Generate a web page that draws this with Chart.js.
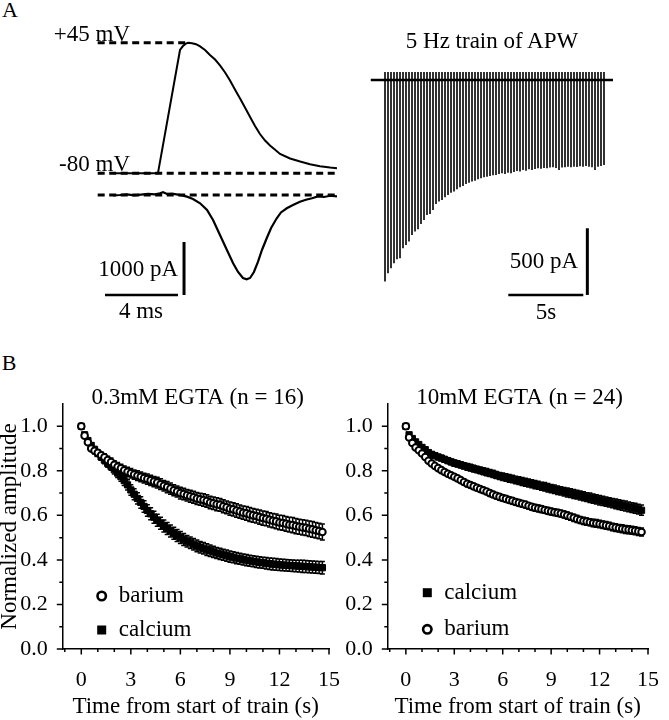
<!DOCTYPE html>
<html>
<head>
<meta charset="utf-8">
<script src="https://cdn.jsdelivr.net/npm/chart.js@4.4.1/dist/chart.umd.min.js"></script>
<style>
  body { margin: 0; background: #fff; }
  #fig { position: relative; width: 669px; height: 720px; background: #fff; overflow: hidden;
         font-family: "Liberation Serif", "Times New Roman", serif; color: #000; }
  #fig canvas { position: absolute; }
  .lbl { position: absolute; font-size: 23px; line-height: 1; white-space: nowrap; }
</style>
</head>
<body>
<div id="fig">
  <canvas id="apChart" width="255" height="275" style="left:90px;top:30px"></canvas>
  <canvas id="trainChart" width="260" height="260" style="left:360px;top:50px"></canvas>
  <canvas id="egta03Chart" width="350" height="340" style="left:0px;top:380px"></canvas>
  <canvas id="egta10Chart" width="344" height="340" style="left:325px;top:380px"></canvas>

  <div class="lbl" style="left:10px;top:10px;font-size:22px;transform:translate(-50%,-50%)">A</div>
  <div class="lbl" style="left:130px;top:33px;transform:translate(-100%,-50%)">+45 mV</div>
  <div class="lbl" style="left:130px;top:163px;transform:translate(-100%,-50%)">-80 mV</div>
  <div class="lbl" style="left:178px;top:268px;transform:translate(-100%,-50%)">1000 pA</div>
  <div class="lbl" style="left:141px;top:310px;transform:translate(-50%,-50%)">4 ms</div>
  <div class="lbl" style="left:492px;top:40px;transform:translate(-50%,-50%)">5 Hz train of APW</div>
  <div class="lbl" style="left:578px;top:260px;transform:translate(-100%,-50%)">500 pA</div>
  <div class="lbl" style="left:546px;top:311px;transform:translate(-50%,-50%)">5s</div>
  <div class="lbl" style="left:9px;top:363px;font-size:22px;transform:translate(-50%,-50%)">B</div>
</div>

<script>
// ---- panel A, left: action potential waveform (ms, mV)
const apTime = [0.84, 3.30, 4.51, 4.67, 4.81, 4.95, 5.17, 5.39, 5.61, 5.88, 6.15, 6.43, 6.70, 6.98,
  7.25, 7.52, 7.80, 8.07, 8.35, 8.62, 8.89, 9.17, 9.44, 9.72, 9.99, 10.54, 11.09, 11.63, 12.18, 12.73, 13.11]
const apVolt = [-80, -80, 38.0, 41.8, 43.8, 45.0, 44.5, 43.6, 41.4, 38.0, 33.2, 28.9, 23.2, 16.5,
  8.8, 0.2, -8.4, -17.0, -26.1, -34.7, -42.4, -48.6, -53.4, -57.5, -61.5, -65.8, -68.7, -71.3, -73.2, -74.5, -75.2]

// current evoked by that waveform (ms, pA)
const icaTime = [0.84, 1.22, 1.61, 1.99, 2.37, 2.76, 3.14, 3.41, 3.58, 3.80, 4.07, 4.40, 4.67, 4.89,
  5.22, 5.61, 5.99, 6.32, 6.70, 7.08, 7.42, 7.69, 7.96, 8.16, 8.35, 8.56, 8.78, 9.00, 9.26, 9.50,
  9.81, 10.04, 10.36, 10.70, 11.08, 11.41, 11.74, 12.07, 12.40, 12.73, 13.11]
const icaCurr = [-9, 0, 13, -6, 6, 19, 13, 32, 51, 19, 25, 6, -13, -32,
  -75, -157, -283, -472, -755, -1038, -1289, -1453, -1566, -1591, -1566, -1453, -1264, -1038, -817, -623,
  -440, -330, -251, -189, -126, -89, -62, -28, -38, -15, -25]

const apLevels = [45, -80]        // mV, dashed reference lines
const apScaleBar = [4, 1000]      // ms, pA

// ---- panel A, right: peak current of each response in the 5 Hz train (pA)
const trainPeaks = [1512, 1450, 1412, 1375, 1345, 1337, 1262, 1237, 1212, 1162,
  1137, 1120, 1080, 1050, 1012, 1005, 975, 930, 912, 900,
  880, 862, 845, 837, 820, 805, 795, 780, 770, 762,
  755, 745, 737, 730, 725, 720, 715, 712, 705, 700,
  705, 695, 700, 690, 682, 687, 675, 680, 670, 675,
  667, 662, 665, 660, 662, 657, 655, 660, 675, 657,
  655, 650, 655, 650, 652, 647, 650, 645, 650, 655,
  675, 650, 645, 637]
const stimArtifact = 60           // pA, upward stimulus blip
const trainScaleBar = [5, 500]    // s, pA
const stimInterval = 0.2          // s (5 Hz)

// ---- panel B: normalized amplitude, one point per stimulus
const ba03 = [1.000, 0.958, 0.928, 0.900, 0.890, 0.881, 0.870, 0.861, 0.848, 0.839,
  0.827, 0.818, 0.811, 0.802, 0.796, 0.789, 0.783, 0.778, 0.773, 0.767,
  0.763, 0.757, 0.752, 0.747, 0.740, 0.733, 0.727, 0.720, 0.713, 0.707,
  0.700, 0.696, 0.690, 0.686, 0.681, 0.676, 0.672, 0.669, 0.664, 0.658,
  0.654, 0.650, 0.647, 0.641, 0.636, 0.630, 0.627, 0.622, 0.617, 0.612,
  0.609, 0.604, 0.600, 0.597, 0.592, 0.588, 0.585, 0.580, 0.576, 0.573,
  0.568, 0.566, 0.562, 0.558, 0.556, 0.552, 0.549, 0.546, 0.544, 0.540,
  0.537, 0.533, 0.530, 0.525]
const ba03Err = [0.000, 0.008, 0.010, 0.012, 0.013, 0.014, 0.015, 0.016, 0.017, 0.018,
  0.018, 0.019, 0.019, 0.020, 0.020, 0.021, 0.021, 0.022, 0.022, 0.022,
  0.023, 0.023, 0.023, 0.024, 0.024, 0.024, 0.025, 0.025, 0.025, 0.025,
  0.026, 0.026, 0.026, 0.027, 0.027, 0.027, 0.027, 0.028, 0.028, 0.028,
  0.028, 0.029, 0.029, 0.029, 0.029, 0.030, 0.030, 0.030, 0.030, 0.030,
  0.031, 0.031, 0.031, 0.031, 0.032, 0.032, 0.032, 0.032, 0.032, 0.033,
  0.033, 0.033, 0.033, 0.033, 0.034, 0.034, 0.034, 0.034, 0.034, 0.035,
  0.035, 0.035, 0.035, 0.036]
const ca03 = [1.000, 0.962, 0.936, 0.914, 0.896, 0.878, 0.862, 0.848, 0.833, 0.820,
  0.805, 0.790, 0.774, 0.756, 0.737, 0.714, 0.695, 0.676, 0.658, 0.640,
  0.622, 0.607, 0.592, 0.578, 0.565, 0.552, 0.541, 0.530, 0.520, 0.510,
  0.501, 0.492, 0.484, 0.477, 0.470, 0.463, 0.457, 0.452, 0.446, 0.441,
  0.436, 0.431, 0.427, 0.423, 0.419, 0.415, 0.412, 0.408, 0.405, 0.402,
  0.399, 0.396, 0.394, 0.391, 0.389, 0.387, 0.385, 0.383, 0.381, 0.380,
  0.378, 0.377, 0.376, 0.375, 0.374, 0.373, 0.372, 0.371, 0.370, 0.369,
  0.368, 0.367, 0.366, 0.365]
const ca03Err = [0.000, 0.008, 0.010, 0.012, 0.013, 0.014, 0.015, 0.016, 0.017, 0.018,
  0.019, 0.020, 0.021, 0.022, 0.023, 0.024, 0.025, 0.025, 0.026, 0.026,
  0.026, 0.027, 0.027, 0.027, 0.027, 0.027, 0.027, 0.027, 0.027, 0.027,
  0.027, 0.027, 0.026, 0.026, 0.026, 0.026, 0.026, 0.026, 0.026, 0.026,
  0.025, 0.025, 0.025, 0.025, 0.025, 0.025, 0.025, 0.025, 0.025, 0.025,
  0.025, 0.025, 0.025, 0.025, 0.025, 0.025, 0.026, 0.026, 0.026, 0.026,
  0.026, 0.026, 0.026, 0.026, 0.026, 0.026, 0.026, 0.027, 0.027, 0.027,
  0.027, 0.027, 0.027, 0.028]
const ca10 = [1.000, 0.962, 0.945, 0.930, 0.918, 0.905, 0.895, 0.882, 0.874, 0.868,
  0.862, 0.857, 0.851, 0.846, 0.840, 0.835, 0.831, 0.827, 0.822, 0.818,
  0.814, 0.810, 0.806, 0.802, 0.798, 0.794, 0.790, 0.786, 0.781, 0.777,
  0.773, 0.770, 0.766, 0.763, 0.759, 0.756, 0.752, 0.749, 0.745, 0.742,
  0.738, 0.735, 0.731, 0.728, 0.724, 0.720, 0.717, 0.713, 0.710, 0.706,
  0.703, 0.700, 0.696, 0.693, 0.689, 0.686, 0.682, 0.679, 0.675, 0.672,
  0.668, 0.665, 0.662, 0.658, 0.655, 0.652, 0.648, 0.645, 0.642, 0.638,
  0.635, 0.632, 0.628, 0.623]
const ca10Err = [0.000, 0.006, 0.008, 0.009, 0.010, 0.010, 0.011, 0.011, 0.012, 0.012,
  0.012, 0.013, 0.013, 0.013, 0.013, 0.014, 0.014, 0.014, 0.014, 0.015,
  0.015, 0.015, 0.015, 0.015, 0.016, 0.016, 0.016, 0.016, 0.016, 0.016,
  0.017, 0.017, 0.017, 0.017, 0.017, 0.017, 0.018, 0.018, 0.018, 0.018,
  0.018, 0.018, 0.018, 0.019, 0.019, 0.019, 0.019, 0.019, 0.019, 0.019,
  0.020, 0.020, 0.020, 0.020, 0.020, 0.020, 0.020, 0.021, 0.021, 0.021,
  0.021, 0.021, 0.021, 0.021, 0.021, 0.022, 0.022, 0.022, 0.022, 0.022,
  0.022, 0.022, 0.022, 0.023]
const ba10 = [1.000, 0.950, 0.925, 0.905, 0.892, 0.878, 0.862, 0.845, 0.833, 0.822,
  0.812, 0.803, 0.795, 0.787, 0.780, 0.773, 0.766, 0.758, 0.750, 0.742,
  0.736, 0.730, 0.724, 0.718, 0.713, 0.707, 0.700, 0.694, 0.688, 0.683,
  0.678, 0.674, 0.669, 0.665, 0.660, 0.656, 0.652, 0.648, 0.643, 0.638,
  0.634, 0.631, 0.628, 0.624, 0.620, 0.617, 0.614, 0.611, 0.608, 0.604,
  0.599, 0.594, 0.589, 0.584, 0.579, 0.575, 0.572, 0.569, 0.566, 0.564,
  0.561, 0.558, 0.555, 0.552, 0.548, 0.545, 0.542, 0.540, 0.537, 0.535,
  0.533, 0.531, 0.528, 0.525]
const ba10Err = [0.000, 0.005, 0.006, 0.007, 0.008, 0.008, 0.009, 0.009, 0.009, 0.010,
  0.010, 0.010, 0.010, 0.011, 0.011, 0.011, 0.011, 0.011, 0.012, 0.012,
  0.012, 0.012, 0.012, 0.012, 0.012, 0.013, 0.013, 0.013, 0.013, 0.013,
  0.013, 0.013, 0.014, 0.014, 0.014, 0.014, 0.014, 0.014, 0.014, 0.014,
  0.015, 0.015, 0.015, 0.015, 0.015, 0.015, 0.015, 0.015, 0.015, 0.016,
  0.016, 0.016, 0.016, 0.016, 0.016, 0.016, 0.016, 0.016, 0.017, 0.017,
  0.017, 0.017, 0.017, 0.017, 0.017, 0.017, 0.017, 0.018, 0.018, 0.018,
  0.018, 0.018, 0.018, 0.018]

const xTicks = [0, 3, 6, 9, 12, 15]
const yTicks = [0, 0.2, 0.4, 0.6, 0.8, 1.0]

const serif = '"Liberation Serif", "Times New Roman", serif'
Chart.defaults.font.family = serif
Chart.defaults.color = '#000'

function pairs(xs, ys) {
  return xs.map((x, k) => ({ x: x, y: ys[k] }))
}

function stimPoints(values) {
  return values.map((v, k) => ({ x: k * stimInterval, y: v }))
}

// ---------- panel A, left ----------
new Chart(document.getElementById('apChart'), {
  type: 'line',
  data: {
    datasets: [
      { data: pairs(apTime, apVolt), yAxisID: 'yV', borderWidth: 2 },
      { data: pairs(icaTime, icaCurr), yAxisID: 'yI', borderWidth: 2.2 },
      { data: [{ x: 0, y: apLevels[0] }, { x: 5.05, y: apLevels[0] }], yAxisID: 'yV', borderWidth: 3, borderDash: [7, 4.5] },
      { data: [{ x: 0, y: apLevels[1] }, { x: 13.1, y: apLevels[1] }], yAxisID: 'yV', borderWidth: 3, borderDash: [7, 4.5] },
      { data: [{ x: 0, y: 0 }, { x: 13.1, y: 0 }], yAxisID: 'yI', borderWidth: 3, borderDash: [7, 4.5] },
      // scale bars
      { data: [{ x: 0.4, y: -1887 }, { x: 0.4 + apScaleBar[0], y: -1887 }], yAxisID: 'yI', borderWidth: 2.5 },
      { data: [{ x: 4.73, y: -1887 }, { x: 4.73, y: -1887 + apScaleBar[1] }], yAxisID: 'yI', borderWidth: 3 }
    ]
  },
  options: {
    responsive: false,
    animation: false,
    events: [],
    layout: { padding: 0 },
    plugins: { legend: { display: false }, tooltip: { enabled: false } },
    elements: { point: { radius: 0 }, line: { borderColor: '#000', fill: false, tension: 0 } },
    scales: {
      x: { type: 'linear', display: false, min: -0.422, max: 13.55 },
      yV: { type: 'linear', axis: 'y', display: false, min: -206.05, max: 57.16 },
      yI: { type: 'linear', axis: 'y', display: false, min: -2076, max: 3113 }
    }
  }
})

// ---------- panel A, right ----------
const trainTrace = []
trainPeaks.forEach((amp, k) => {
  const t = k * stimInterval
  trainTrace.push({ x: t, y: 0 }, { x: t, y: stimArtifact }, { x: t, y: -amp }, { x: t, y: 0 })
})

new Chart(document.getElementById('trainChart'), {
  type: 'line',
  data: {
    datasets: [
      { data: [{ x: -0.95, y: 0 }, { x: 15.2, y: 0 }], borderWidth: 2.4 },
      { data: trainTrace, borderWidth: 1.6 },
      { data: [{ x: 8.22, y: -1612 }, { x: 8.22 + trainScaleBar[0], y: -1612 }], borderWidth: 2.5 },
      { data: [{ x: 13.49, y: -1612 }, { x: 13.49, y: -1612 + trainScaleBar[1] }], borderWidth: 3 }
    ]
  },
  options: {
    responsive: false,
    animation: false,
    events: [],
    layout: { padding: 0 },
    plugins: { legend: { display: false }, tooltip: { enabled: false } },
    elements: { point: { radius: 0 }, line: { borderColor: '#000', fill: false, tension: 0 } },
    scales: {
      x: { type: 'linear', display: false, min: -1.667, max: 15.667 },
      y: { type: 'linear', display: false, min: -1725, max: 225 }
    }
  }
})

// ---------- panel B ----------
// error bars, minor/major ticks, panel title and the in-plot legend
const figureBits = {
  id: 'figureBits',
  beforeDatasetDraw(chart, args) {
    const ds = chart.data.datasets[args.index]
    if (!ds.errors) return
    const ctx = chart.ctx
    const ys = chart.scales.y
    ctx.save()
    ctx.strokeStyle = '#000'
    ctx.lineWidth = 1.5
    args.meta.data.forEach((pt, k) => {
      const e = ds.errors[k]
      if (!e) return
      const v = ds.data[k].y
      const top = ys.getPixelForValue(v + e)
      const bot = ys.getPixelForValue(v - e)
      ctx.beginPath()
      ctx.moveTo(pt.x, top); ctx.lineTo(pt.x, bot)
      ctx.moveTo(pt.x - 2.5, top); ctx.lineTo(pt.x + 2.5, top)
      ctx.moveTo(pt.x - 2.5, bot); ctx.lineTo(pt.x + 2.5, bot)
      ctx.stroke()
    })
    ctx.restore()
  },
  afterDraw(chart, args, opts) {
    const ctx = chart.ctx
    const xs = chart.scales.x
    const ys = chart.scales.y
    const area = chart.chartArea
    ctx.save()
    ctx.strokeStyle = '#000'
    ctx.fillStyle = '#000'
    ctx.lineWidth = 1.5
    ctx.beginPath()
    for (let k = 0; k <= 10; k++) {
      const py = ys.getPixelForValue(k / 10)
      ctx.moveTo(area.left - (k % 2 ? 3 : 5.5), py)
      ctx.lineTo(area.left, py)
    }
    for (let t = -1; t <= 15; t++) {
      const px = xs.getPixelForValue(t)
      ctx.moveTo(px, area.bottom)
      ctx.lineTo(px, area.bottom + (t % 3 === 0 ? 5.5 : 3))
    }
    ctx.stroke()

    ctx.font = '23px ' + serif
    ctx.textAlign = 'center'
    ctx.textBaseline = 'middle'
    ctx.fillText(opts.title, (area.left + area.right) / 2 + 2, area.top - 6)

    ctx.textAlign = 'left'
    opts.legend.forEach(item => {
      if (item.style === 'circle') {
        ctx.beginPath()
        ctx.lineWidth = 2.6
        ctx.arc(item.x, item.y, 4.2, 0, 2 * Math.PI)
        ctx.fillStyle = '#fff'
        ctx.fill()
        ctx.stroke()
        ctx.fillStyle = '#000'
      } else {
        ctx.fillRect(item.x - 4.5, item.y - 4.5, 9, 9)
      }
      ctx.fillText(item.label, item.x + 17, item.y)
    })
    ctx.restore()
  }
}

function bariumSet(values, errs) {
  return {
    label: 'barium', data: stimPoints(values), errors: errs, showLine: false,
    pointStyle: 'circle', pointRadius: 3.3, pointBorderWidth: 2,
    pointBackgroundColor: '#fff', pointBorderColor: '#000'
  }
}

function calciumSet(values, errs) {
  return {
    label: 'calcium', data: stimPoints(values), errors: errs, showLine: false,
    pointStyle: 'rect', pointRadius: 4.4, pointBorderWidth: 1,
    pointBackgroundColor: '#000', pointBorderColor: '#000'
  }
}

function egtaOptions(title, legend, yTitle, rightPad) {
  return {
    responsive: false,
    animation: false,
    events: [],
    layout: { padding: { top: 24, right: rightPad, bottom: 0, left: 0 } },
    plugins: {
      legend: { display: false },
      tooltip: { enabled: false },
      figureBits: { title: title, legend: legend }
    },
    scales: {
      x: {
        type: 'linear', min: -1.15, max: 15,
        afterBuildTicks: s => { s.ticks = xTicks.map(v => ({ value: v })) },
        afterFit: s => { s.height = 71 },
        grid: { display: false },
        border: { color: '#000', width: 1.5 },
        ticks: { font: { size: 22 }, padding: 10, autoSkip: false, maxRotation: 0 },
        title: { display: true, text: 'Time from start of train (s)', font: { size: 23, lineHeight: 1 }, padding: { top: 0, bottom: 1.5 } }
      },
      y: {
        type: 'linear', min: 0, max: 1.1,
        afterBuildTicks: s => { s.ticks = yTicks.map(v => ({ value: v })) },
        afterFit: s => { s.width = 62.3 },
        grid: { display: false },
        border: { color: '#000', width: 1.5 },
        ticks: { font: { size: 22 }, padding: 6.5, autoSkip: false, callback: v => v.toFixed(1) },
        title: { display: yTitle, text: 'Normalized amplitude', font: { size: 23, lineHeight: 1 }, padding: { top: -2, bottom: 0 } }
      }
    }
  }
}

new Chart(document.getElementById('egta03Chart'), {
  type: 'scatter',
  data: { datasets: [bariumSet(ba03, ba03Err), calciumSet(ca03, ca03Err)] },
  options: egtaOptions('0.3mM EGTA (n = 16)',
    [{ label: 'barium', style: 'circle', x: 101.7, y: 216 }, { label: 'calcium', style: 'rect', x: 101.7, y: 250 }],
    true, 18),
  plugins: [figureBits]
})

new Chart(document.getElementById('egta10Chart'), {
  type: 'scatter',
  data: { datasets: [bariumSet(ba10, ba10Err), calciumSet(ca10, ca10Err)] },
  options: egtaOptions('10mM EGTA (n = 24)',
    [{ label: 'calcium', style: 'rect', x: 102.3, y: 212.7 }, { label: 'barium', style: 'circle', x: 102.3, y: 249.3 }],
    false, 11.7),
  plugins: [figureBits]
})
</script>
</body>
</html>
